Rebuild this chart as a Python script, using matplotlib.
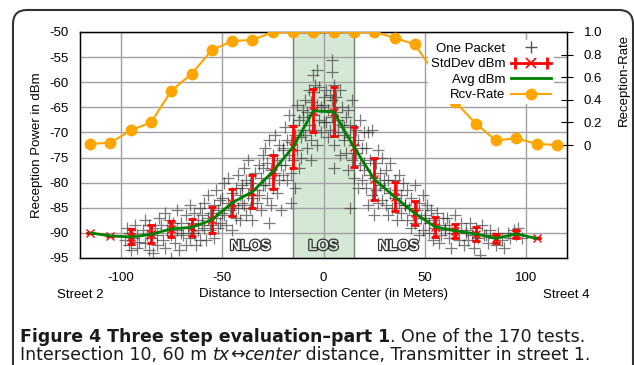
import matplotlib
matplotlib.use('Agg')
from matplotlib import pyplot as plt
from matplotlib.lines import Line2D
from matplotlib.patches import FancyBboxPatch
from matplotlib.transforms import IdentityTransform
from matplotlib.legend_handler import HandlerLine2D, HandlerTuple
import matplotlib.patheffects as pe

# distanze (m) dei punti medi / deviazione standard
dist = [-115, -105, -95, -85, -75, -65, -55, -45, -35, -25, -15, -5,
        5, 15, 25, 35, 45, 55, 65, 75, 85, 95, 105]
avg_dbm = [-90.0, -90.6, -90.8, -90.3, -89.2, -88.9, -87.4, -84.0, -81.8, -77.8, -72.9, -65.7,
           -65.9, -72.9, -79.3, -82.8, -86.1, -88.8, -89.6, -90.2, -91.1, -90.2, -91.1]
std_dbm = [0.0, 0.0, 1.5, 1.8, 1.6, 1.7, 2.6, 2.65, 3.3, 3.4, 4.2, 4.3,
           4.9, 4.0, 4.2, 2.9, 2.4, 2.0, 1.4, 1.35, 0.9, 0.75, 0.0]

# tasso di ricezione
rate_dist = [-115, -105, -95, -85, -75, -65, -55, -45, -35, -25, -15, -5,
             5, 15, 25, 35, 45, 55, 65, 75, 85, 95, 105, 115]
rcv_rate = [0.01, 0.02, 0.13, 0.20, 0.48, 0.63, 0.84, 0.92, 0.93, 1.0, 1.0, 1.0,
            1.0, 1.0, 1.0, 0.95, 0.89, 0.63, 0.38, 0.19, 0.04, 0.06, 0.01, 0.0]

# singoli pacchetti (letti a occhio dalla nuvola)
packet_x = [
    -98, -97, -96, -96, -95, -94, -93, -92, -92, -91,
    -89, -88, -88, -87, -86, -86, -85, -84, -83, -82, -82, -81,
    -80, -79, -78, -78, -77, -76, -75, -75, -74, -73, -72, -72, -71, -70,
    -70, -69, -68, -68, -67, -66, -66, -65, -64, -64, -63, -62, -62, -61, -61, -60,
    -60, -59, -59, -58, -57, -57, -56, -56, -55, -54, -54, -53, -53, -52, -52, -51, -51, -50,
    -50, -49, -49, -48, -47, -47, -46, -45, -45, -44, -43, -43, -42, -42, -41, -41, -40, -40,
    -40, -39, -39, -38, -38, -37, -37, -36, -36, -35, -35, -34, -33, -33, -32, -32, -31, -31, -30, -30,
    -30, -29, -29, -28, -28, -27, -27, -26, -26, -25, -25, -24, -24, -23, -23, -22, -22, -21, -21, -20, -20, -27,
    -20, -19, -19, -18, -18, -17, -17, -16, -16, -15, -15, -14, -14, -13, -13, -12, -12, -11, -11, -10, -10, -16,
    -10, -9, -9, -8, -8, -7, -7, -6, -6, -5, -5, -5, -4, -4, -3, -3, -2, -2, -1, -1, 0, 0, -6, -3,
    0, 1, 1, 2, 2, 3, 3, 4, 4, 4, 5, 5, 6, 6, 7, 7, 8, 8, 9, 9, 10, 10, 4, 5,
    10, 11, 11, 12, 12, 13, 13, 14, 14, 15, 15, 16, 16, 17, 17, 18, 18, 19, 19, 20, 20, 13,
    20, 21, 21, 22, 22, 23, 23, 24, 24, 25, 25, 26, 26, 27, 27, 28, 28, 29, 29, 30,
    30, 31, 31, 32, 32, 33, 33, 34, 35, 35, 36, 36, 37, 37, 38, 38, 39, 40,
    40, 41, 41, 42, 43, 43, 44, 45, 45, 46, 47, 47, 48, 49, 49, 50,
    50, 51, 52, 52, 53, 54, 54, 55, 56, 57, 57, 58, 59, 60,
    60, 61, 62, 62, 63, 64, 65, 66, 67, 68, 69, 70,
    70, 71, 72, 73, 74, 75, 76, 77, 78, 79,
    80, 81, 82, 84, 85, 86, 88, 89,
    91, 92, 94, 95, 96, 98,
]
packet_y = [
    -91.5, -89.0, -92.5, -90.0, -93.5, -91.0, -88.5, -90.5, -93.0, -91.8,
    -89.5, -92.0, -87.5, -90.5, -93.5, -88.5, -91.0, -94.0, -89.0, -90.5, -92.5, -87.0,
    -88.5, -91.5, -86.0, -93.0, -89.5, -87.5, -95.0, -90.5, -88.0, -92.0, -85.5, -89.5, -93.5, -90.0,
    -88.0, -90.5, -86.5, -92.5, -89.0, -84.5, -91.0, -88.0, -90.0, -86.0, -92.5, -89.5, -87.5, -85.0, -91.5, -88.5,
    -86.5, -89.0, -84.0, -91.5, -87.0, -82.5, -89.5, -86.0, -88.5, -84.5, -91.0, -87.0, -81.5, -89.0, -85.5, -83.5, -88.0, -86.0,
    -83.0, -86.5, -80.0, -88.5, -84.0, -79.0, -85.5, -82.0, -89.5, -84.5, -81.0, -87.0, -78.5, -85.0, -82.5, -87.5, -80.5, -84.0,
    -81.0, -84.5, -77.0, -86.5, -79.5, -82.5, -75.5, -85.0, -80.0, -83.0, -87.5, -78.0, -81.5, -84.0, -76.5, -82.5, -79.0, -85.5, -74.5, -80.5,
    -77.0, -80.5, -73.0, -83.0, -76.0, -79.0, -71.5, -84.5, -77.5, -74.5, -81.0, -78.0, -70.5, -82.0, -75.5, -79.5, -72.5, -76.5, -85.5, -73.5, -78.5, -88.0,
    -73.0, -76.5, -69.0, -79.5, -71.5, -74.5, -66.5, -78.0, -72.0, -68.5, -75.5, -70.5, -81.0, -73.5, -64.5, -77.0, -67.5, -71.0, -75.0, -65.5, -69.5, -84.0,
    -67.0, -70.5, -63.5, -73.0, -66.0, -61.5, -68.5, -64.0, -71.5, -58.5, -62.0, -66.5, -69.5, -60.5, -64.5, -72.5, -67.5, -61.0, -65.0, -70.0, -63.0, -68.0, -75.5, -57.5,
    -64.5, -68.0, -61.5, -71.0, -65.5, -62.5, -69.5, -58.0, -63.5, -67.0, -60.5, -72.5, -66.0, -63.0, -70.0, -67.5, -61.5, -74.5, -68.5, -65.0, -71.5, -69.0, -55.5, -77.0,
    -70.5, -67.0, -74.0, -65.5, -77.5, -71.0, -68.5, -75.5, -63.5, -72.5, -79.0, -69.5, -74.0, -81.0, -71.5, -67.5, -76.5, -73.0, -79.5, -70.0, -76.0, -85.0,
    -77.5, -73.0, -81.0, -70.0, -84.5, -78.5, -75.5, -82.5, -69.5, -79.0, -86.5, -76.0, -81.5, -73.5, -84.0, -78.0, -80.5, -75.0, -83.5, -79.5,
    -81.0, -77.5, -84.5, -79.5, -86.5, -82.0, -76.0, -85.0, -83.0, -79.5, -87.5, -81.5, -84.0, -78.5, -86.0, -82.5, -80.0, -84.5,
    -84.5, -81.5, -87.5, -85.0, -89.0, -83.0, -86.5, -80.5, -88.0, -85.5, -90.5, -84.0, -87.0, -82.5, -89.5, -86.5,
    -87.0, -84.5, -90.0, -88.0, -85.5, -91.5, -87.5, -89.0, -86.0, -92.0, -88.5, -90.5, -87.0, -89.5,
    -89.0, -87.0, -91.0, -88.5, -93.0, -90.0, -86.5, -89.5, -91.5, -88.0, -92.5, -90.0,
    -89.5, -91.5, -88.0, -90.5, -93.0, -89.0, -91.0, -94.5, -88.5, -90.5,
    -90.5, -92.0, -89.5, -91.0, -92.5, -90.0, -91.5, -93.0,
    -90.0, -91.0, -89.5, -90.5, -89.0, -91.0,
]

rate_ticks = [0, 0.2, 0.4, 0.6, 0.8, 1.0]
rate_labels = ['0', '0.2', '0.4', '0.6', '0.8', '1.0']

plt.rcParams['font.family'] = ['Liberation Sans', 'DejaVu Sans']
plt.rcParams['font.size'] = 9.5
plt.rcParams['axes.unicode_minus'] = False

W, H = 634, 365
fig = plt.figure(figsize=(W / 100, H / 100), dpi=100)
ax = fig.add_axes([80 / W, 1 - 258 / H, 487 / W, 226 / H])

# cornice arrotondata attorno alla figura
cornice = FancyBboxPatch((13, -30), 620, 30 + H - 10, boxstyle='round,pad=0,rounding_size=14',
                         transform=IdentityTransform(), fill=False, ec='#333333', lw=1.5)
fig.patches.append(cornice)

# zona LOS
ax.axvspan(-15, 15, color='#d5e8d5', lw=0, zorder=1)
for xb in (-15, 15):
    ax.axvline(xb, color='#6f806f', lw=1, zorder=1.6)

ax.plot(packet_x, packet_y, ls='none', marker='+', ms=8, mew=0.9, color='#333333', alpha=0.65, zorder=2)
ax.errorbar(dist, avg_dbm, yerr=std_dbm, fmt='none', ecolor='red', elinewidth=2,
            capsize=2.7, capthick=2, zorder=3)
ax.plot(dist, avg_dbm, ls='none', marker='x', ms=6, mew=1, color='red', zorder=3)
ax.plot(dist, avg_dbm, color='green', lw=2, zorder=4)

ax.set_xlim(-120, 120)
ax.set_ylim(-95, -50)
ax.set_xticks([-100, -50, 0, 50, 100])
ax.set_yticks(range(-95, -49, 5))
ax.grid(color='#a0a0a0', lw=1)
ax.tick_params(direction='in', length=0, pad=8)
ax.tick_params(axis='x', pad=10)
for s in ax.spines.values():
    s.set_color('black')
    s.set_linewidth(1)
ax.set_ylabel('Reception Power in dBm', labelpad=5)
ax.set_xlabel('Distance to Intersection Center (in Meters)', labelpad=3)

# etichette NLOS / LOS in stile contorno
for xt, txt, fc in [(-36, 'NLOS', 'white'), (0, 'LOS', '#d5e8d5'), (37, 'NLOS', 'white')]:
    ax.text(xt, -92.6, txt, ha='center', va='center', fontsize=10.5, fontweight='bold', color=fc,
            path_effects=[pe.withStroke(linewidth=1.8, foreground='#333333')], zorder=5)

ax2 = ax.twinx()
ax2.set_ylim(-1, 1)
ax2.plot(rate_dist, rcv_rate, color='orange', lw=1.5, marker='o', ms=7.5, zorder=3)
ax2.set_yticks(rate_ticks)
ax2.set_yticklabels(rate_labels)
ax2.tick_params(direction='inout', length=8, pad=8)
ax2.set_ylabel('Reception-Rate')
ax2.yaxis.set_label_coords(1.105, 0.79)

pk = Line2D([], [], ls='none', marker='+', ms=8, mew=1, color='#555555')
err_line = Line2D([], [], color='red', lw=2, marker='x', ms=7, mew=1.2)
err_caps = Line2D([], [], color='red', ls='none', marker='|', ms=8, mew=2)
avg_h = Line2D([], [], color='green', lw=2)
rcv_h = Line2D([], [], color='orange', lw=1.5, marker='o', ms=7.5)
leg = ax2.legend([pk, (err_line, err_caps), avg_h, rcv_h],
                 ['One Packet', 'StdDev dBm', 'Avg dBm', 'Rcv-Rate'],
                 handler_map={err_caps: HandlerLine2D(numpoints=2), tuple: HandlerTuple(ndivide=1)},
                 loc='upper right', bbox_to_anchor=(0.986, 0.995), markerfirst=False,
                 frameon=True, framealpha=1, edgecolor='none', fancybox=False,
                 handlelength=3.0, handletextpad=0.45, labelspacing=0.25, borderpad=0.2,
                 fontsize=9.5)
leg.set_zorder(10)

fig.text(57 / W, 1 - 298 / H, 'Street 2', fontsize=9.5, va='baseline')
fig.text(543 / W, 1 - 298 / H, 'Street 4', fontsize=9.5, va='baseline')

# didascalia
cap_fam = ['DejaVu Sans']
cap_size = 12.5
fig.canvas.draw()
r = fig.canvas.get_renderer()


def catena(x, y, pezzi):
    for testo, peso, stile in pezzi:
        t = fig.text(x, y, testo, fontsize=cap_size, family=cap_fam, fontweight=peso,
                     style=stile, color='#1a1a1a', va='baseline')
        x = t.get_window_extent(r).x1 / W


catena(20 / W, 1 - 342 / H, [('Figure 4 Three step evaluation\u2013part 1', 'bold', 'normal'),
                             ('. One of the 170 tests.', 'normal', 'normal')])
catena(20 / W, 1 - 360 / H, [('Intersection 10, 60 m ', 'normal', 'normal'),
                             ('tx', 'normal', 'italic'),
                             ('\u2194', 'normal', 'normal'),
                             ('center', 'normal', 'italic'),
                             (' distance, Transmitter in street 1.', 'normal', 'normal')])

fig.savefig('out.png', dpi=100)
